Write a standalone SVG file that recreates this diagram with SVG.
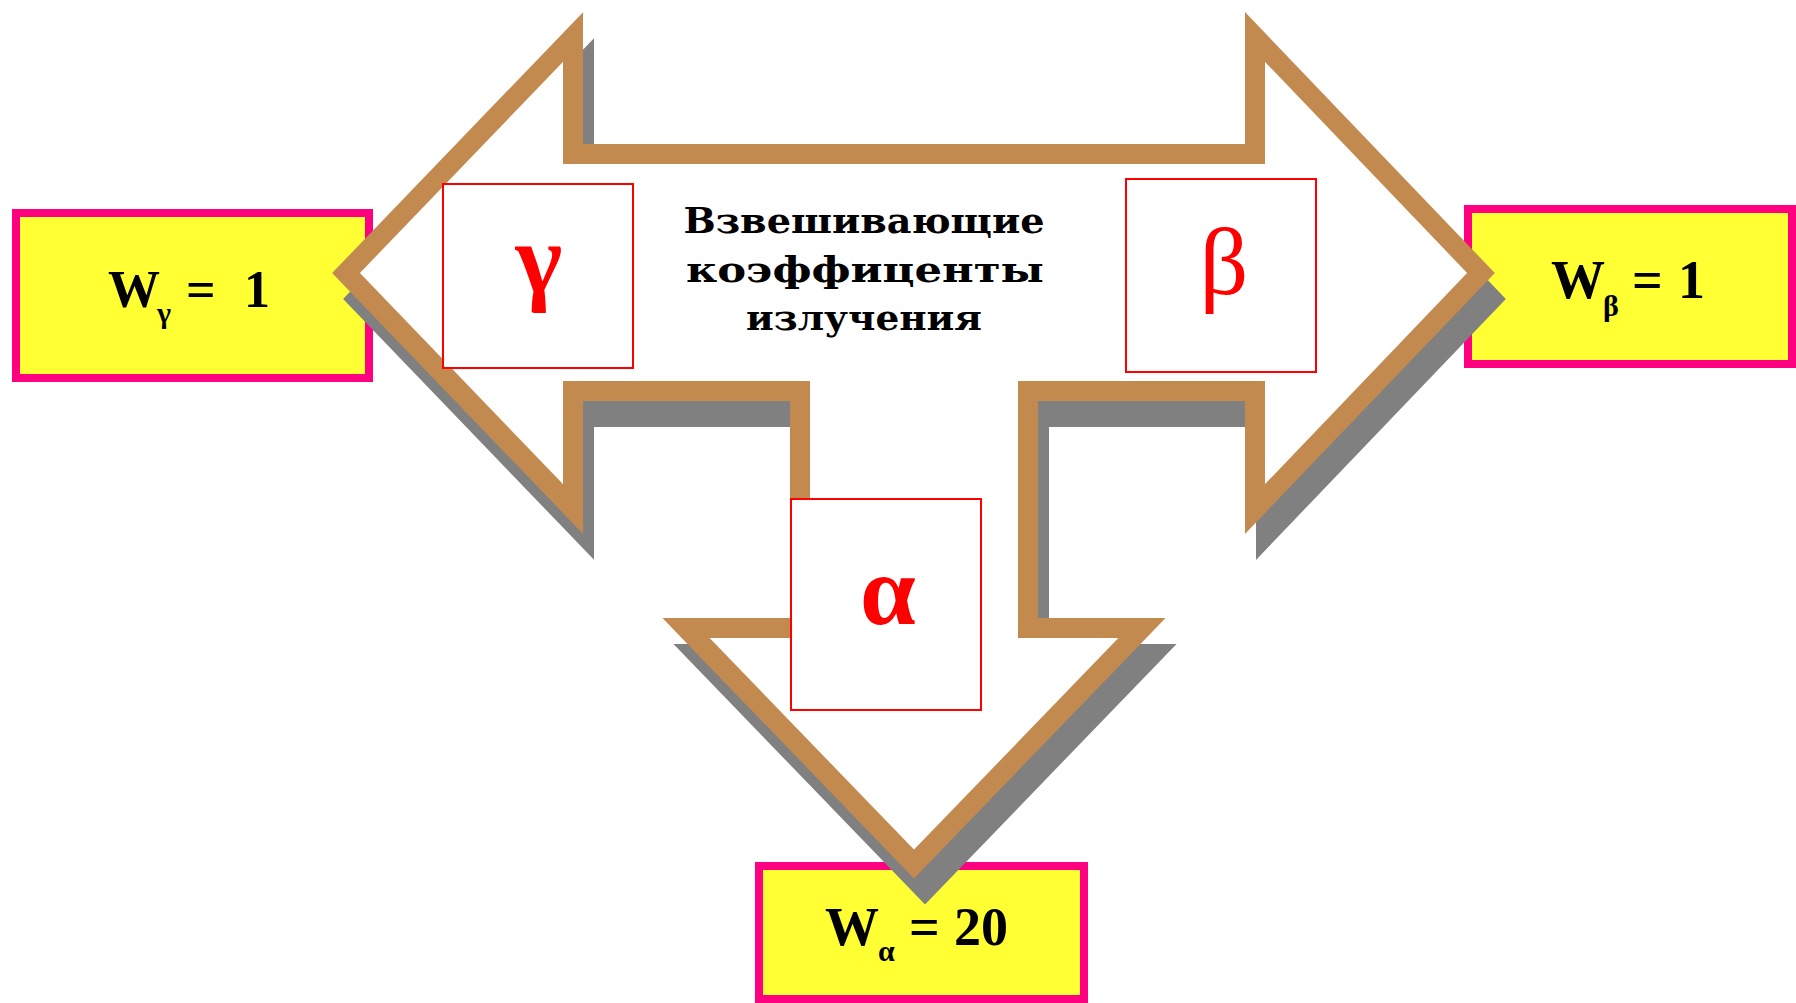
<svg xmlns="http://www.w3.org/2000/svg" xmlns:xlink="http://www.w3.org/1999/xlink" width="1796" height="1003" viewBox="0 0 1796 1003">
<style>
.wbox{fill:#FFFF33;stroke:#FF0080;stroke-width:8}
.rbox{fill:#FFFFFF;stroke:#FF0000;stroke-width:2}
.wtxt{font-family:"Liberation Serif","Times New Roman",serif;font-weight:bold;fill:#000000}
.greek{font-family:"Liberation Serif","Times New Roman",serif;fill:#FF0000;text-anchor:middle}
.title{font-family:"DejaVu Serif",serif;font-weight:bold;font-size:36px;fill:#000000;text-anchor:middle}
</style>
<defs>
<polygon id="arrowShape" points="346,273 573,37 573,154 1255,154 1255,37 1481,273 1255,509 1255,391 1028,391 1028,628 1142,628 914,864 686,628 800,628 800,391 573,391 573,509"/>
</defs>
<rect width="1796" height="1003" fill="#FFFFFF"/>
<g id="w-gamma">
<rect class="wbox" x="16" y="213" width="353" height="165"/>
<text class="wtxt" font-size="52"><tspan x="108" y="307">W</tspan><tspan x="157" y="323" font-size="30">γ</tspan><tspan x="186" y="307">=</tspan><tspan x="244" y="307">1</tspan></text>
</g>
<g id="w-beta">
<rect class="wbox" x="1468" y="209" width="324" height="155"/>
<text class="wtxt" font-size="54"><tspan x="1551" y="298">W</tspan><tspan x="1603" y="316" font-size="30">β</tspan><tspan x="1632" y="298">=</tspan><tspan x="1678" y="298">1</tspan></text>
</g>
<g id="w-alpha">
<rect class="wbox" x="759" y="866" width="325" height="133"/>
<text class="wtxt" font-size="54"><tspan x="825" y="945">W</tspan><tspan x="878" y="961" font-size="30">α</tspan><tspan x="909" y="945">=</tspan><tspan x="954" y="945">20</tspan></text>
</g>
<g id="connectors">
<use xlink:href="#arrowShape" href="#arrowShape" transform="translate(11,26)" fill="#808080" stroke="#808080" stroke-width="20" stroke-linejoin="miter" stroke-miterlimit="10"/>
<use xlink:href="#arrowShape" href="#arrowShape" fill="#FFFFFF" stroke="#C38A50" stroke-width="20" stroke-linejoin="miter" stroke-miterlimit="10"/>
</g>
<g id="title">
<text class="title" x="864" y="233" textLength="361" lengthAdjust="spacingAndGlyphs">Взвешивающие</text>
<text class="title" x="865" y="282" textLength="358" lengthAdjust="spacingAndGlyphs">коэффиценты</text>
<text class="title" x="864" y="330" textLength="236" lengthAdjust="spacingAndGlyphs">излучения</text>
</g>
<g id="gamma">
<rect class="rbox" x="443" y="184" width="190" height="184"/>
<text class="greek" x="539" y="292" font-size="100" font-weight="bold">γ</text>
</g>
<g id="beta">
<rect class="rbox" x="1126" y="179" width="190" height="193"/>
<text class="greek" x="1224" y="294" font-size="96">β</text>
</g>
<g id="alpha">
<rect class="rbox" x="791" y="499" width="190" height="211"/>
<text class="greek" x="888" y="624" font-size="100" font-weight="bold">α</text>
</g>
</svg>
